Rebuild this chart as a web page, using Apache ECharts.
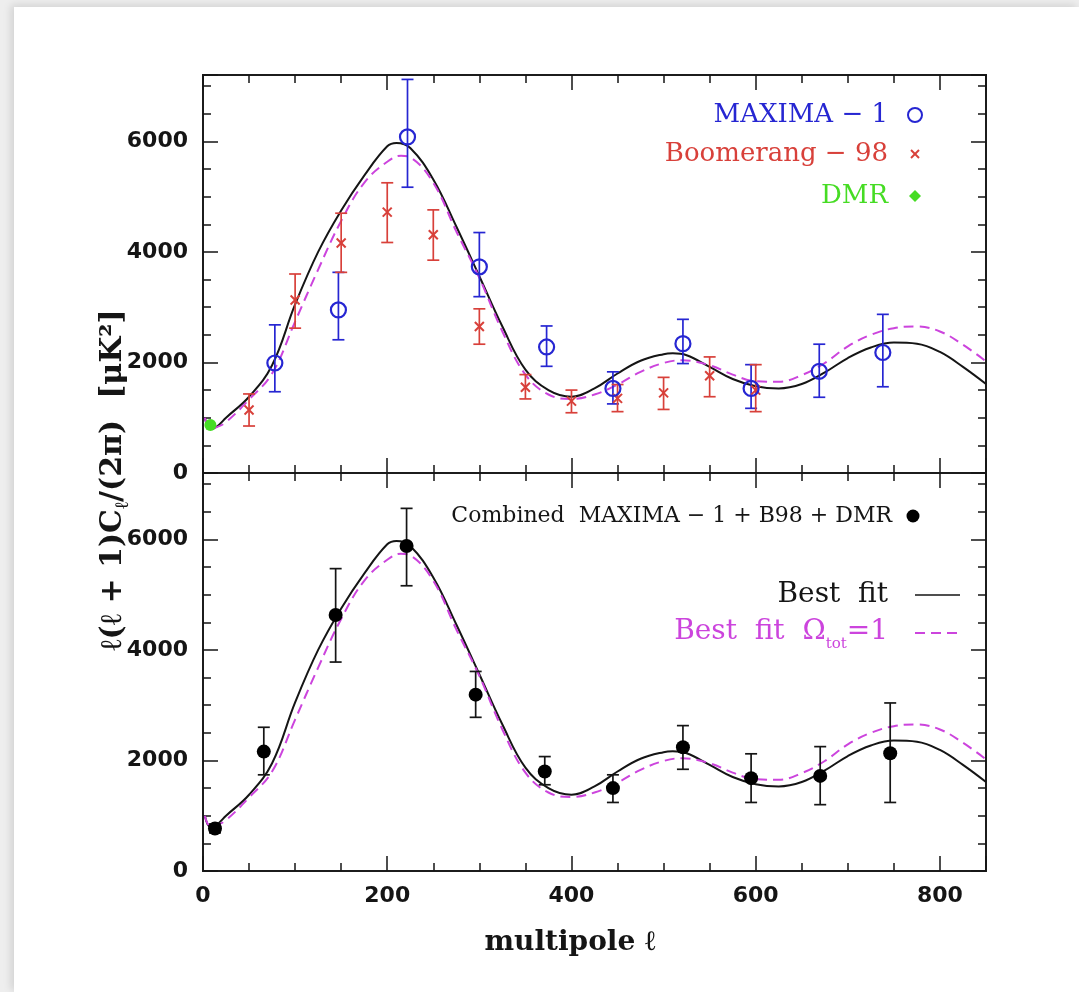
<!DOCTYPE html>
<html>
<head>
<meta charset="utf-8">
<title>CMB angular power spectrum</title>
<script src="https://cdn.jsdelivr.net/npm/echarts@6/dist/echarts.min.js"></script>
<style>
  html, body { margin: 0; padding: 0; width: 1079px; height: 992px; background: #eeeeee; overflow: hidden; }
  .card { position: absolute; left: 14px; top: 7px; right: 0; bottom: 0; background: #fff; box-shadow: -3px -2px 8px rgba(0,0,0,0.12); }
  #chart { position: absolute; left: 0; top: 0; width: 1079px; height: 992px; }
</style>
</head>
<body>
<div class="card"></div>
<div id="chart"></div>
<script>
// --- data ---
const maximaL  = [78, 147, 222, 300, 373, 445, 521, 595, 669, 738];
const maximaV  = [1990, 2950, 6080, 3730, 2280, 1530, 2340, 1530, 1840, 2180];
const maximaLo = [1470, 2410, 5170, 3190, 1930, 1250, 1980, 1170, 1370, 1560];
const maximaHi = [2680, 3630, 7120, 4350, 2660, 1830, 2780, 1960, 2330, 2870];

const b98L  = [50, 100, 150, 200, 250, 300, 350, 400, 450, 500, 550, 600];
const b98V  = [1140, 3130, 4160, 4720, 4310, 2650, 1550, 1300, 1350, 1450, 1760, 1500];
const b98Lo = [850, 2620, 3630, 4170, 3850, 2330, 1340, 1090, 1110, 1150, 1380, 1110];
const b98Hi = [1430, 3600, 4700, 5250, 4760, 2970, 1780, 1500, 1600, 1730, 2100, 1960];

const dmrL = [8];
const dmrV = [870];

const combL  = [13, 66, 144, 221, 296, 371, 445, 521, 595, 670, 746];
const combV  = [770, 2160, 4630, 5880, 3190, 1800, 1500, 2240, 1680, 1720, 2130];
const combLo = [690, 1740, 3780, 5160, 2780, 1560, 1240, 1840, 1240, 1200, 1240];
const combHi = [850, 2600, 5470, 6560, 3610, 2070, 1740, 2630, 2120, 2250, 3040];

const fitL = [2, 8, 15, 25, 50, 75, 100, 125, 150, 175, 200, 210, 225, 250, 275, 300, 325, 350, 375, 400,
              425, 450, 475, 500, 510, 525, 550, 575, 600, 625, 650, 675, 700, 725, 750, 775, 800, 825, 850];
const fitV = [1000, 800, 840, 1000, 1380, 1950, 3050, 4000, 4750, 5380, 5910, 5970, 5880, 5310, 4460, 3560, 2650, 1870, 1500, 1380,
              1530, 1800, 2030, 2150, 2165, 2130, 1920, 1700, 1570, 1530, 1610, 1820, 2080, 2270, 2360, 2340, 2190, 1920, 1610];

const flatL = [2, 8, 15, 25, 50, 75, 100, 125, 150, 175, 200, 215, 225, 250, 275, 300, 325, 350, 375, 400,
               425, 450, 475, 500, 520, 550, 575, 600, 625, 650, 675, 700, 725, 750, 775, 800, 825, 850];
const flatV = [1000, 810, 830, 920, 1330, 1800, 2740, 3680, 4560, 5250, 5630, 5740, 5710, 5250, 4370, 3530, 2560, 1780, 1420, 1340,
               1420, 1600, 1830, 1990, 2040, 1950, 1780, 1660, 1650, 1770, 1990, 2290, 2500, 2620, 2650, 2560, 2320, 2020];

const xTicksMajor = 200, xTicksMinor = 50;
const yTicksMajor = 2000, yTicksMinor = 500;

// --- styling ---
const ink = '#151515';
const blue = '#2626d2';
const red = '#d8403a';
const green = '#46dc24';
const magenta = '#cc44dd';

const zip = (...cols) => cols[0].map((_, i) => cols.map(c => c[i]));

const tickLabel = { color: ink, fontSize: 22, fontWeight: 'bold', fontFamily: 'DejaVu Sans' };

function xAxis(gridIndex, position, interval, len, labels) {
  return {
    type: 'value', gridIndex, position, min: 0, max: 850, interval,
    axisLine: { show: false, onZero: false },
    axisTick: { show: true, inside: true, length: len, lineStyle: { color: ink, width: 1.5 } },
    splitLine: { show: false },
    axisLabel: labels ? {
      show: true, margin: 14, ...tickLabel,
      formatter: v => (v % xTicksMajor === 0 ? String(v) : '')
    } : { show: false }
  };
}

function yAxis(gridIndex, position, interval, len, labels) {
  return {
    type: 'value', gridIndex, position, min: 0, max: 7200, interval,
    axisLine: { show: false, onZero: false },
    axisTick: { show: true, inside: true, length: len, lineStyle: { color: ink, width: 1.5 } },
    splitLine: { show: false },
    axisLabel: labels ? {
      show: true, margin: 15, ...tickLabel,
      formatter: v => (v % yTicksMajor === 0 ? String(v) : '')
    } : { show: false }
  };
}

const xAxes = [], yAxes = [];
[0, 1].forEach(g => {
  xAxes.push(xAxis(g, 'bottom', xTicksMinor, 8, false));
  xAxes.push(xAxis(g, 'bottom', xTicksMajor, 15, g === 1));
  xAxes.push(xAxis(g, 'top', xTicksMinor, 8, false));
  xAxes.push(xAxis(g, 'top', xTicksMajor, 15, false));
  yAxes.push(yAxis(g, 'left', yTicksMinor, 8, false));
  yAxes.push(yAxis(g, 'left', yTicksMajor, 15, true));
  yAxes.push(yAxis(g, 'right', yTicksMinor, 8, false));
  yAxes.push(yAxis(g, 'right', yTicksMajor, 15, false));
});

// error bars with caps; optional x-shaped marker at the value
function errorBars(color, cross) {
  return function (params, api) {
    const l = api.value(0);
    const mid = api.coord([l, api.value(1)]);
    const lo = api.coord([l, api.value(2)]);
    const hi = api.coord([l, api.value(3)]);
    const cap = 6;
    const style = { stroke: color, lineWidth: 1.7 };
    const children = [
      { type: 'line', shape: { x1: lo[0], y1: lo[1], x2: hi[0], y2: hi[1] }, style },
      { type: 'line', shape: { x1: lo[0] - cap, y1: lo[1], x2: lo[0] + cap, y2: lo[1] }, style },
      { type: 'line', shape: { x1: hi[0] - cap, y1: hi[1], x2: hi[0] + cap, y2: hi[1] }, style }
    ];
    if (cross) {
      const s = 4.5;
      const cs = { stroke: color, lineWidth: 2 };
      children.push({ type: 'line', shape: { x1: mid[0] - s, y1: mid[1] - s, x2: mid[0] + s, y2: mid[1] + s }, style: cs });
      children.push({ type: 'line', shape: { x1: mid[0] - s, y1: mid[1] + s, x2: mid[0] + s, y2: mid[1] - s }, style: cs });
    }
    return { type: 'group', children };
  };
}

function curves(g) {
  return [
    {
      type: 'line', name: 'Best fit', xAxisIndex: g * 4, yAxisIndex: g * 4,
      data: zip(fitL, fitV), smooth: 0.4, showSymbol: false, silent: true,
      lineStyle: { color: ink, width: 2 }, z: 3
    },
    {
      type: 'line', name: 'Best fit Ωtot=1', xAxisIndex: g * 4, yAxisIndex: g * 4,
      data: zip(flatL, flatV), smooth: 0.4, showSymbol: false, silent: true,
      lineStyle: { color: magenta, width: 2, type: [10, 6] }, z: 4
    }
  ];
}

const series = [
  ...curves(0),
  {
    type: 'custom', name: 'MAXIMA-1 bars', xAxisIndex: 0, yAxisIndex: 0,
    data: zip(maximaL, maximaV, maximaLo, maximaHi), encode: { x: 0, y: [1, 2, 3] },
    renderItem: errorBars(blue, false), silent: true, z: 5
  },
  {
    type: 'scatter', name: 'MAXIMA-1', xAxisIndex: 0, yAxisIndex: 0,
    data: zip(maximaL, maximaV), symbol: 'circle', symbolSize: 15,
    itemStyle: { color: 'rgba(0,0,0,0)', borderColor: blue, borderWidth: 2.2, opacity: 1 }, silent: true, z: 6
  },
  {
    type: 'custom', name: 'Boomerang-98', xAxisIndex: 0, yAxisIndex: 0,
    data: zip(b98L, b98V, b98Lo, b98Hi), encode: { x: 0, y: [1, 2, 3] },
    renderItem: errorBars(red, true), silent: true, z: 5
  },
  {
    type: 'scatter', name: 'DMR', xAxisIndex: 0, yAxisIndex: 0,
    data: zip(dmrL, dmrV), symbol: 'circle', symbolSize: 12,
    itemStyle: { color: green, opacity: 1 }, silent: true, z: 6
  },
  ...curves(1),
  {
    type: 'custom', name: 'Combined bars', xAxisIndex: 4, yAxisIndex: 4,
    data: zip(combL, combV, combLo, combHi), encode: { x: 0, y: [1, 2, 3] },
    renderItem: errorBars(ink, false), silent: true, z: 5
  },
  {
    type: 'scatter', name: 'Combined', xAxisIndex: 4, yAxisIndex: 4,
    data: zip(combL, combV), symbol: 'circle', symbolSize: 14,
    itemStyle: { color: '#000', opacity: 1 }, silent: true, z: 6
  }
];

const serif = '"DejaVu Serif", "Liberation Serif", serif';

const graphic = [
  // top panel key
  { type: 'text', x: 888, y: 115, style: { text: 'MAXIMA − 1', fill: blue, font: '26px ' + serif, align: 'right', verticalAlign: 'middle' } },
  { type: 'circle', shape: { cx: 915, cy: 115, r: 7 }, style: { fill: 'none', stroke: blue, lineWidth: 2 } },
  { type: 'text', x: 888, y: 154, style: { text: 'Boomerang − 98', fill: red, font: '26px ' + serif, align: 'right', verticalAlign: 'middle' } },
  { type: 'line', shape: { x1: 911, y1: 150, x2: 919, y2: 158 }, style: { stroke: red, lineWidth: 2 } },
  { type: 'line', shape: { x1: 911, y1: 158, x2: 919, y2: 150 }, style: { stroke: red, lineWidth: 2 } },
  { type: 'text', x: 888, y: 196, style: { text: 'DMR', fill: green, font: '26px ' + serif, align: 'right', verticalAlign: 'middle' } },
  { type: 'polygon', shape: { points: [[915, 190], [921, 196], [915, 202], [909, 196]] }, style: { fill: green } },

  // bottom panel key
  { type: 'text', x: 892, y: 516, style: { text: 'Combined  MAXIMA − 1 + B98 + DMR', fill: ink, font: '22px ' + serif, align: 'right', verticalAlign: 'middle' } },
  { type: 'circle', shape: { cx: 913, cy: 516, r: 6.5 }, style: { fill: '#000' } },
  { type: 'text', x: 888, y: 595, style: { text: 'Best  fit', fill: ink, font: '28px ' + serif, align: 'right', verticalAlign: 'middle' } },
  { type: 'line', shape: { x1: 915, y1: 595, x2: 960, y2: 595 }, style: { stroke: ink, lineWidth: 1.5 } },
  {
    type: 'text', x: 888, y: 632,
    style: {
      text: 'Best  fit  Ω{s|tot}=1', fill: magenta, font: '28px ' + serif, align: 'right', verticalAlign: 'middle',
      rich: { s: { fontSize: 15, fontFamily: 'DejaVu Serif', fill: magenta, verticalAlign: 'bottom', lineHeight: 40 } }
    }
  },
  { type: 'line', shape: { x1: 915, y1: 633, x2: 960, y2: 633 }, style: { stroke: magenta, lineWidth: 1.8, lineDash: [10, 6] } },

  // axis titles
  {
    type: 'text', x: 113, y: 480, rotation: Math.PI / 2,
    style: {
      text: 'ℓ(ℓ + 1)C{s|ℓ}/(2π)  [μK²]', fill: ink, font: 'bold 30px ' + serif, align: 'center', verticalAlign: 'middle',
      rich: { s: { fontSize: 19, fontWeight: 'bold', fontFamily: 'DejaVu Serif', fill: ink, verticalAlign: 'bottom', lineHeight: 40 } }
    }
  },
  { type: 'text', x: 570, y: 943, style: { text: 'multipole ℓ', fill: ink, font: 'bold 28px ' + serif, align: 'center', verticalAlign: 'middle' } }
];

const chart = echarts.init(document.getElementById('chart'));
chart.setOption({
  animation: false,
  backgroundColor: 'transparent',
  grid: [
    { left: 203, top: 75, width: 783, height: 398, show: true, borderColor: '#1c1c1c', borderWidth: 2, backgroundColor: 'transparent', outerBoundsMode: 'none' },
    { left: 203, top: 473, width: 783, height: 398, show: true, borderColor: '#1c1c1c', borderWidth: 2, backgroundColor: 'transparent', outerBoundsMode: 'none' }
  ],
  xAxis: xAxes,
  yAxis: yAxes,
  series,
  graphic
});
</script>
</body>
</html>
